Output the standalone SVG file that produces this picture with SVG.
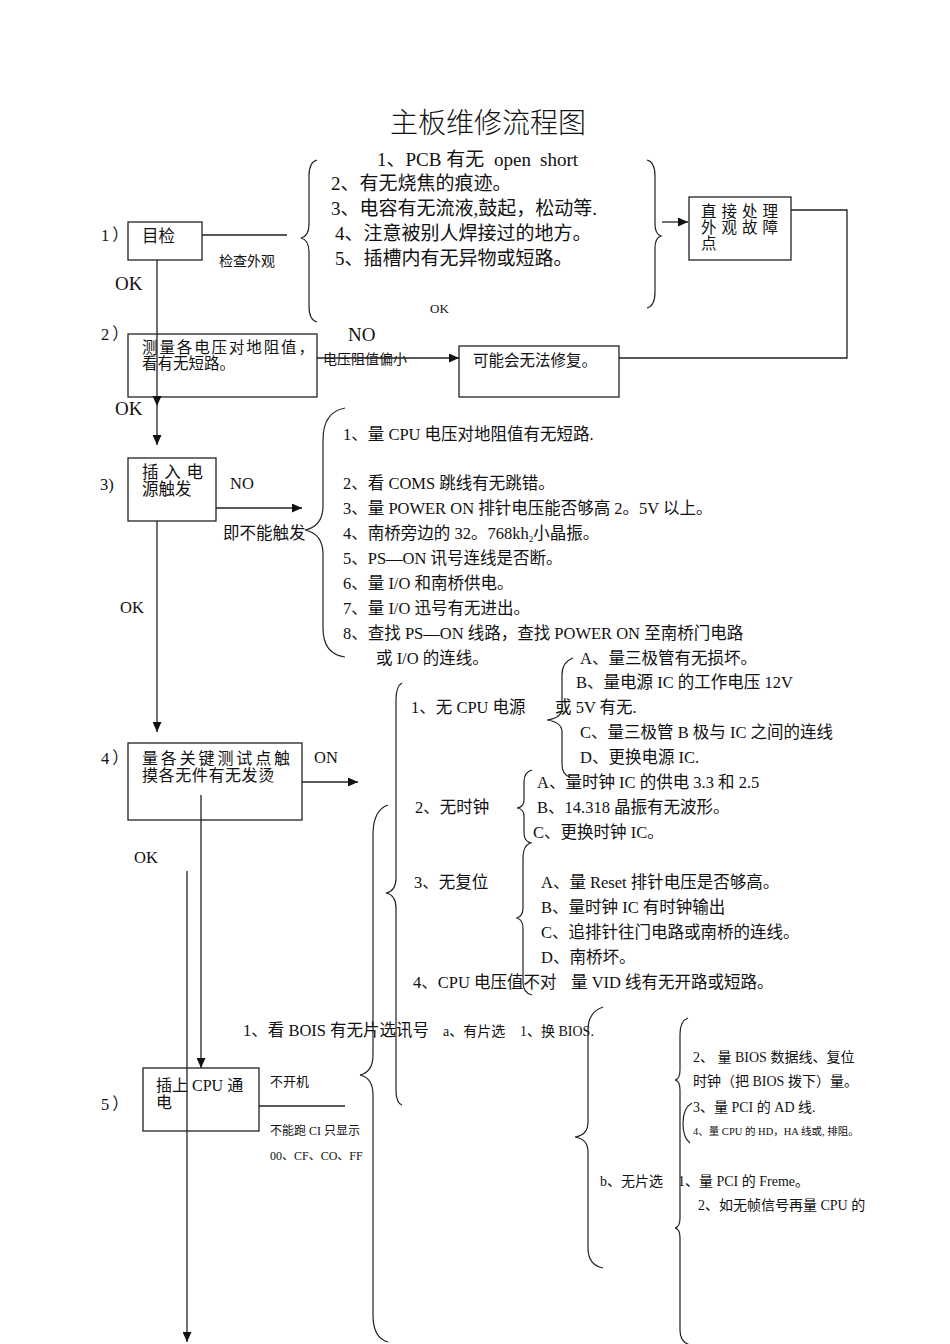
<svg xmlns="http://www.w3.org/2000/svg" width="950" height="1344" viewBox="0 0 950 1344">
<style>
text{font-family:"Liberation Serif","Noto Sans CJK SC",serif;fill:#111}
.cj{font-family:"Noto Sans CJK SC","Liberation Serif",serif}
.t28{font-size:28px;font-weight:300}
.t19{font-size:19px}
.t16{font-size:16.5px}
.b16{font-size:16px}
.t15{font-size:15.5px}
.t14{font-size:14px}
.t13{font-size:13px}
.t12{font-size:12px}
.t10{font-size:10.5px}
.box{fill:none;stroke:#222;stroke-width:1.3}
.ln{fill:none;stroke:#222;stroke-width:1.3}
.br{fill:none;stroke:#222;stroke-width:1.2}
</style>
<defs>
<marker id="ah" markerUnits="userSpaceOnUse" markerWidth="10" markerHeight="9" refX="10" refY="4.5" orient="auto">
<path d="M0,0 L10,4.5 L0,9 z" fill="#111"/>
</marker>
</defs>
<rect width="950" height="1344" fill="#fff"/>
<text class="t28" x="390" y="133">主板维修流程图</text>

<g id="node1">
<text class="t16" x="101" y="241">1<tspan class="cj" dx="3">）</tspan></text>
<rect class="box" x="128" y="222" width="74" height="38"/>
<text class="t16" x="142" y="242">目检</text>
<text class="t14" x="219" y="266">检查外观</text>
<text class="t19" x="115" y="290">OK</text>
</g>

<g id="check1">
<text class="t19" x="377" y="166">1、PCB 有无</text>
<text class="t19" x="494" y="166">open</text>
<text class="t19" x="540" y="166">short</text>
<text class="t19" x="331" y="190">2、有无烧焦的痕迹。</text>
<text class="t19" x="331" y="215">3、电容有无流液,鼓起，松动等.</text>
<text class="t19" x="335" y="240">4、注意被别人焊接过的地方。</text>
<text class="t19" x="335" y="265">5、插槽内有无异物或短路。</text>
<text class="t13" x="430" y="313">OK</text>
</g>

<g id="fix">
<rect class="box" x="689" y="197" width="102" height="63"/>
<text class="t15" x="701" y="217" textLength="77" lengthAdjust="spacing">直接处理</text>
<text class="t15" x="701" y="233" textLength="77" lengthAdjust="spacing">外观故障</text>
<text class="t15" x="701" y="249">点</text>
</g>

<g id="node2">
<text class="t16" x="101" y="340">2<tspan class="cj" dx="3">）</tspan></text>
<rect class="box" x="128" y="334" width="189" height="63"/>
<text class="t15" x="142" y="353" textLength="172" lengthAdjust="spacing">测量各电压对地阻值，</text>
<text class="t15" x="142" y="369">看有无短路。</text>
<text class="t19" x="348" y="341">NO</text>
<text class="t14" x="323" y="364">电压阻值偏小</text>
<text class="t19" x="115" y="415">OK</text>
</g>

<g id="norepair">
<rect class="box" x="459" y="346" width="160" height="51"/>
<text class="t15" x="473" y="366">可能会无法修复。</text>
</g>

<g id="node3">
<text class="t16" x="100" y="490">3)</text>
<rect class="box" x="128" y="458" width="88" height="63"/>
<text class="t16" x="142" y="478" textLength="61" lengthAdjust="spacing">插入电</text>
<text class="t16" x="142" y="495">源触发</text>
<text class="t16" x="230" y="489">NO</text>
<text class="t16" x="223" y="539">即不能触发</text>
<text class="t16" x="120" y="613">OK</text>
</g>

<g id="check3">
<text class="t16" x="343" y="440">1、量 CPU 电压对地阻值有无短路.</text>
<text class="t16" x="343" y="489">2、看 COMS 跳线有无跳错。</text>
<text class="t16" x="343" y="514">3、量 POWER ON 排针电压能否够高 2。5V 以上。</text>
<text class="t16" x="343" y="539">4、南桥旁边的 32。768kh<tspan font-size="9" dy="3">2</tspan><tspan dy="-3">小晶振。</tspan></text>
<text class="t16" x="343" y="564">5、PS—ON 讯号连线是否断。</text>
<text class="t16" x="343" y="589">6、量 I/O 和南桥供电。</text>
<text class="t16" x="343" y="614">7、量 I/O 迅号有无进出。</text>
<text class="t16" x="343" y="639">8、查找 PS—ON 线路，查找 POWER ON 至南桥门电路</text>
<text class="t16" x="376" y="664">或 I/O 的连线。</text>
</g>

<g id="node4">
<text class="t16" x="101" y="764">4<tspan class="cj" dx="3">）</tspan></text>
<rect class="box" x="128" y="743" width="174" height="77"/>
<text class="b16" x="142" y="764" textLength="148" lengthAdjust="spacing">量各关键测试点触</text>
<text class="b16" x="142" y="781" letter-spacing="0.6">摸各无件有无发烫</text>
<text class="t16" x="314" y="763">ON</text>
<text class="t16" x="134" y="863">OK</text>
</g>

<g id="check4">
<text class="t16" x="411" y="713">1、无 CPU 电源</text>
<text class="t16" x="555" y="713">或 5V 有无.</text>
<text class="t16" x="580" y="664">A、量三极管有无损坏。</text>
<text class="t16" x="576" y="688">B、量电源 IC 的工作电压 12V</text>
<text class="t16" x="580" y="738">C、量三极管 B 极与 IC 之间的连线</text>
<text class="t16" x="580" y="763">D、更换电源 IC.</text>
<text class="t16" x="415" y="813">2、无时钟</text>
<text class="t16" x="537" y="788">A、量时钟 IC 的供电 3.3 和 2.5</text>
<text class="t16" x="537" y="813">B、14.318 晶振有无波形。</text>
<text class="t16" x="533" y="838">C、更换时钟 IC。</text>
<text class="t16" x="414" y="888">3、无复位</text>
<text class="t16" x="541" y="888">A、量 Reset 排针电压是否够高。</text>
<text class="t16" x="541" y="913">B、量时钟 IC 有时钟输出</text>
<text class="t16" x="541" y="938">C、追排针往门电路或南桥的连线。</text>
<text class="t16" x="541" y="963">D、南桥坏。</text>
<text class="t16" x="413" y="988">4、CPU 电压值不对</text>
<text class="t16" x="571" y="988">量 VID 线有无开路或短路。</text>
</g>

<g id="node5">
<text class="t16" x="101" y="1110">5<tspan class="cj" dx="3">）</tspan></text>
<rect class="box" x="143" y="1068" width="116" height="63"/>
<text class="b16" x="156" y="1091">插上 CPU 通</text>
<text class="b16" x="156" y="1108">电</text>
<text class="t13" x="270" y="1086">不开机</text>
<text class="t12" x="270" y="1135">不能跑 CI 只显示</text>
<text class="t12" x="270" y="1160">00、CF、CO、FF</text>
</g>

<g id="check5">
<text class="t16" x="243" y="1036">1、看 BOIS 有无片选讯号</text>
<text class="t14" x="443" y="1036">a、有片选</text>
<text class="t14" x="520" y="1036">1、换 BIOS.</text>
<text class="t14" x="693" y="1062">2、 量 BIOS 数据线、复位</text>
<text class="t14" x="693" y="1086">时钟（把 BIOS 拨下）量。</text>
<text class="t14" x="693" y="1112">3、量 PCI 的 AD 线.</text>
<text class="t10" x="693" y="1135">4、量 CPU 的 HD，HA 线或, 排阻。</text>
<text class="t14" x="600" y="1186">b、无片选</text>
<text class="t14" x="678" y="1186">1、量 PCI 的 Freme。</text>
<text class="t14" x="698" y="1210">2、如无帧信号再量 CPU 的</text>
</g>

<g id="braces">
<path class="br" d="M317,160 Q309,162 309,176 L309,224 Q309,236 301,238 Q309,240 309,252 L309,306 Q309,320 317,322"/>
<path class="br" d="M647,160 Q655,162 655,176 L655,224 Q655,234 661,236 Q655,238 655,248 L655,292 Q655,306 647,308"/>
<path class="br" d="M345,408 Q323,412 323,440 L323,506 Q323,526 305,530 Q323,534 323,554 L323,628 Q323,654 345,657"/>
<path class="br" d="M388,805 Q373,810 373,835 L373,1055 Q373,1072 360,1075 Q373,1078 373,1095 L373,1315 Q373,1338 388,1342"/>
<path class="br" d="M402,683 Q396,686 396,700 L396,878 Q396,891 386,893 Q396,895 396,908 L396,1090 Q396,1103 402,1105"/>
<path class="br" d="M573,658 Q562,662 562,675 L562,708 Q562,718 547,720 Q562,722 562,732 L562,764 Q562,775 570,777"/>
<path class="br" d="M532,770 Q524,772 524,782 L524,800 Q524,807 517,808 Q524,809 524,816 L524,833 Q524,842 532,843"/>
<path class="br" d="M530,843 Q523,846 523,858 L523,908 Q523,916 517,918 Q523,920 523,928 L523,982 Q523,993 532,995"/>
<path class="br" d="M603,1007 Q588,1012 588,1030 L588,1122 Q588,1135 575,1137 Q588,1139 588,1152 L588,1248 Q588,1265 603,1268"/>
<path class="br" d="M688,1018 Q680,1021 680,1034 L680,1070 Q680,1079 675,1080 Q680,1081 680,1090 L680,1218 Q680,1227 675,1228 Q680,1229 680,1238 L680,1330 Q680,1342 690,1345"/>
<path class="br" d="M692,1103 Q683,1108 683,1123 Q683,1138 690,1143"/>
</g>

<g id="connectors">
<line class="ln" x1="202" y1="235" x2="287" y2="235"/>
<line class="ln" x1="662" y1="222" x2="688" y2="222" marker-end="url(#ah)"/>
<polyline class="ln" points="791,210 847,210 847,358 619,358"/>
<line class="ln" x1="317" y1="358" x2="459" y2="358" marker-end="url(#ah)"/>
<line class="ln" x1="157" y1="260" x2="157" y2="406" marker-end="url(#ah)"/>
<line class="ln" x1="157" y1="406" x2="157" y2="445" marker-end="url(#ah)"/>
<line class="ln" x1="216" y1="508" x2="302" y2="508" marker-end="url(#ah)"/>
<line class="ln" x1="157" y1="521" x2="157" y2="732" marker-end="url(#ah)"/>
<line class="ln" x1="302" y1="782" x2="358" y2="782" marker-end="url(#ah)"/>
<line class="ln" x1="201" y1="795" x2="201" y2="1068" marker-end="url(#ah)"/>
<line class="ln" x1="187" y1="871" x2="187" y2="1342" marker-end="url(#ah)"/>
<line class="ln" x1="259" y1="1106" x2="345" y2="1106"/>
</g>
</svg>
